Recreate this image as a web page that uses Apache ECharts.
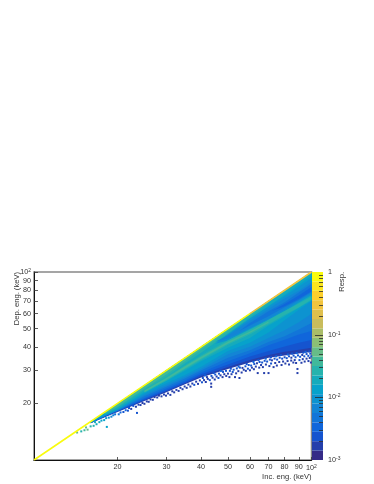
<!DOCTYPE html>
<html><head><meta charset="utf-8">
<style>html,body{margin:0;padding:0;background:#fff}#c{width:374px;height:484px}</style>
<script src="https://cdn.jsdelivr.net/npm/echarts@6/dist/echarts.min.js"></script>
</head><body><div id="c"></div>
<script>
const tickValues=[20,30,40,50,60,70,80,90,100];
const respTicks=[0.002,0.003,0.004,0.005,0.006,0.007,0.008,0.009,0.02,0.03,0.04,0.05,0.06,0.07,0.08,0.09,0.2,0.3,0.4,0.5,0.6,0.7,0.8,0.9];
const respDecades=[0.001,0.01,0.1,1];
const palette=['#352a87','#253fab','#1554cf','#1066db','#1275d8','#1385d5','#0d93d0','#07a2cb','#15abbc','#26b3ad','#41b99b','#66bc88','#8bbf75','#aabd69','#c9bc5c','#dfbf4d','#f2c43f','#fed02c','#fbe61d','#f9fb0e'];
// Incident-energy columns (keV)
const incE=[16,18,20,25,30,35,40,50,60,70,80,90,100];
// Lower edge (deposited keV) of each response region, regions reach up to the diagonal
const edge0015=[15.7,16.9,18,20.6,22.9,25.3,27.5,30.5,33,35,36,36.8,37.5];
const edge0024=[15.7,17,18.1,20.8,23.2,25.6,28,31.2,34,36.2,37.6,38.6,39.5];
const edge0034=[15.75,17.05,18.2,21.1,23.6,26,28.6,32.2,35.5,38,40.2,42,43.5];
const edge0048=[15.75,17.1,18.3,21.4,24,26.5,29.2,33.5,37,40.8,43.6,46.5,48.5];
const edge0068=[15.8,17.15,18.35,21.8,24.5,27.1,29.9,35,38.4,42.4,45.5,49.5,53.5];
const edge0095=[15.8,17.2,18.4,22.2,25,27.6,30.5,36.5,40,44.5,49,54,60];
const edge0135=[15.85,17.3,18.5,22.6,25.6,28.3,31.3,38,42,47.6,55.4,63,70];
// Shoulder around the escape ridge
const shoulderE=[18,20,25,30,35,40,50,60,70,80,90,100];
const shoulderTop=[18,20,25,30,35,40,44.4,51,58.2,63.9,69.6,75.4];
const shoulderBot=[17.4,18.7,23,26.3,29.8,33.5,39.5,44.6,52,58,64.6,70.5];
// Bright strips under the diagonal
const nearDiagE=[40,50,60,70,80,90,100];
const nearDiag019=[36.7,46.5,56.1,65.9,75.7,85.7,95.8];
const upperE=[18,20,25,30,35,40,50,60,70];
const upper027=[17.5,19,23.6,27.6,32.6,37.2,47.2,57.5,68];
const upper038=[17.7,19.2,24,28.5,33.5,38.6,48.6,59.5,70];
// Darker strip between diagonal and ridge
const darkE=[45,50,60,70,80,90,100];
const dark0095Top=[41.5,46.7,56.5,65.5,74.3,83.6,92.9];
const dark0095Bot=[41.5,43.2,49.8,55.5,61.8,68.9,75.4];
const dark0068E=[45,50,60,70,80,90,100];
const dark0068Top=[42.5,46,55.1,63.5,72.3,79.6,88.5];
const dark0068Bot=[42.5,44.3,50.4,56.4,63.1,70.5,77];
const dark0048E=[55,60,70,80,90,100];
const dark0048Top=[48.5,53.5,61.9,69,77.8,86.4];
const dark0048Bot=[48.5,51.9,58.2,65,71,78.3];
const dark0034E=[72,80,90,100];
const dark0034Top=[62,67.6,74.9,83.2];
const dark0034Bot=[62,65.8,72.1,79];
// Escape ridge
const ridgeE=[25,30,35,40,50,60,70,80,90,100];
const ridge027Top=[23.6,27.6,31.9,36,43.3,49.3,55.7,62,67.9,74];
const ridge027Bot=[22.8,26.4,30.3,34,41,46.5,52.7,59,64.7,71.5];
const ridge038E=[25,30,35,40,50,60,70];
const ridge038Top=[23.4,27.3,31.5,35.4,42.6,48.3,54.6];
const ridge038Bot=[23,26.7,30.7,34.6,41.6,47.4,53.7];
// Full-energy peak along the diagonal
const peakLowE=[10,14,20,30,40,60];
const peakHighE=[60,80,100];
// Isolated filled cells [inc keV, dep keV, response]
const sparseCells=[[14.3,14,.06],[14.8,14.2,.03],[15.2,14.4,.04],[15.6,14.5,.05],[15.4,14.9,.05],[16,15.1,.03],[16.4,15.2,.025],[16.8,15.5,.02],[16.6,15.9,.02],[17.2,15.9,.016],[17.5,16.2,.014],[17.9,16.3,.012],[18.3,15,.012],[18.2,16.7,.01],[18.6,16.8,.009],[19,17,.007],[19.3,17.3,.006],[19.6,17.5,.005],
[20.2,17.5,.004],[20.5,17.9,.003],[21,18,.0025],[21.4,18.4,.003],[21.8,18.3,.002],[22,18.9,.002],[22.4,18.7,.0018],[22.8,19.4,.002],[23.3,19.2,.0016],[23.5,17.8,.002],[23.8,19.7,.0017],[24.2,19.6,.0016],[24.6,20.1,.0015],[25,19.9,.0016],[25.5,20.5,.0015],[25.9,20.4,.0016],[26.3,21,.0017],[26.8,20.9,.0015],[27.2,21.6,.0015],[27.8,21.5,.0016],[28.2,22,.0015],[28.8,21.8,.0015],[29.4,22.3,.0015],[29.9,22,.0016],
[30.4,22.6,.0015],[31,22.2,.0018],[31.5,23.2,.0015],[32,22.9,.0016],[32.6,23.6,.0015],[33.2,23.3,.0018],[33.7,24.2,.0015],[34.3,23.8,.0016],[34.9,24.6,.0015],[35.5,24.2,.0017],[36,25.2,.0015],[36.6,24.6,.0016],[37.2,25.5,.0015],[37.8,25.1,.002],[38.4,26.1,.0015],[39,25.4,.0016],[39.6,26.5,.0015],[40.3,25.9,.002],[41,26.6,.0016],[41.6,26,.0015],[42.3,27,.0016],[43,26.6,.002],[43.5,25.5,.0017],[43.5,24.5,.0017],
[44,27.4,.0015],[44.8,26.8,.0016],[45.5,27.8,.0015],[46.2,27.3,.002],[47,28.2,.0015],[47.8,27.6,.0016],[48.5,28.6,.0015],[49.3,28,.0018],[50,28.8,.0016],[50.6,27.6,.0017],[51.5,28.6,.0015],[52,29.4,.002],[53,27.6,.0018],[53.5,28.9,.0015],[54.5,29.7,.0016],[55,27.3,.0017],[56,29.2,.0015],[57,30.2,.0016],[58,29.8,.0015],[59,30.6,.002],[60,30,.0015],[61,31,.0016],[62,30.4,.0015],[63,31.4,.0018],[64,29,.0017],[64.8,31,.0015],[65.8,32,.0016],[66.8,31.2,.0015],[67.5,29,.0017],[68.5,32.2,.0016],[70,29,.0017],[70.5,31.6,.0015],[71.5,32.6,.002],[73,31.2,.0015],[74,32.8,.0016],[75,31.8,.0015],[76.5,33.2,.0018],[78,32,.0016],[79,33.4,.0015],[80.5,32.6,.0016],[82,33.6,.0015],[83,32.2,.0018],[84.5,33.8,.0016],[86,33,.0015],[87,34,.0016],[88,32.8,.0015],[89,30.5,.0017],[89,29,.0017],[90.5,34,.002],[92,32.9,.0015],[93,34.4,.0016],[94.5,33.4,.0015],[96,34.6,.0018],[97.5,33.6,.0016],[98.5,34.9,.0015],[99.5,33,.0017]];
// Filled cells in the frayed lower fringe [inc keV, dep keV, response]
const fringeCells=[[40.6,27.3,.0022],[42,27.6,.0018],[43.6,28,.0024],[45,28.5,.002],[46.4,28.8,.0026],[48,29.4,.0022],[49.2,29.8,.002],[50.8,29.8,.0024],[52.4,30.2,.0022],[53.8,30.7,.002],[55.2,31,.0026],[56.4,30.9,.0018],[57.8,31.5,.0024],[59.4,32,.002],[60.6,31.8,.0022],[62.2,32.4,.0026],[63.6,32.7,.0018],[65,33.2,.0024],[66.4,33,.0022],[67.8,33.7,.002],[69.2,33.4,.0026],[70.8,34.2,.0022],[72,33.9,.0018],[73.6,34.6,.0024],[75.2,34.2,.002],[76.8,35,.0026],[78.4,34.6,.0022],[80,35.2,.002],[81.4,34.8,.0024],[83,35.6,.0022],[84.6,35,.0018],[86.2,35.9,.0026],[87.6,35.2,.002],[89.4,36,.0024],[91,35.4,.0022],[92.6,36.2,.0018],[94.2,35.6,.0026],[96,36.6,.0022],[97.4,35.8,.002],[99,36.8,.0026],[99.8,35.6,.0022],
[41.4,28.2,.003],[44.4,29,.0028],[47.2,29.8,.003],[51.2,30.6,.0028],[54.6,31.4,.003],[58.4,32.4,.0028],[61.8,33.2,.003],[64.4,34,.0028],[68.4,34.6,.003],[71.4,35.2,.0028],[74.6,35.6,.003],[77.6,36.2,.0028],[82.2,36.4,.003],[85.2,36.8,.0028],[88.4,37,.003],[93.4,37.2,.0028],[95.2,37.6,.003],[98.2,37.8,.0028]];

function levelOf(v){return Math.max(0,Math.min(19,Math.floor((Math.log10(v)+3)/0.15)));}
function colorOf(v){return palette[levelOf(v)];}
function ribbon(xs,top,bot,resp){
  return {type:'custom',coordinateSystem:'cartesian2d',xAxisIndex:0,yAxisIndex:0,silent:true,clip:true,
    data:xs.map((x,i)=>[x,top[i],bot[i]]),
    encode:{x:0,y:1},
    renderItem(p,api){
      if(p.dataIndex!==0)return;
      const pts=[];
      xs.forEach((x,i)=>pts.push(api.coord([x,top[i]])));
      for(let i=xs.length-1;i>=0;i--)pts.push(api.coord([xs[i],bot[i]]));
      return {type:'polygon',shape:{points:pts},style:{fill:colorOf(resp)}};
    }};
}
const cellStyle={opacity:1,color:p=>colorOf(p.value[2])};
function scaleTicks(values,len){
  return {type:'custom',coordinateSystem:'cartesian2d',xAxisIndex:1,yAxisIndex:1,silent:true,z:5,
    data:values.map(v=>[0,v]),encode:{x:0,y:1},
    renderItem(p,api){
      const a=api.coord([1,api.value(1)]);
      const y=Math.round(a[1])+.5;
      return {type:'line',shape:{x1:a[0],y1:y,x2:a[0]-len,y2:y},style:{stroke:'#2a2a2a',lineWidth:.8}};
    }};
}
const series=[
  ribbon(incE,incE,edge0015,.0015),
  ribbon(incE,incE,edge0024,.0024),
  ribbon(incE,incE,edge0034,.0034),
  ribbon(incE,incE,edge0048,.0048),
  ribbon(incE,incE,edge0068,.0068),
  ribbon(incE,incE,edge0095,.0095),
  ribbon(incE,incE,edge0135,.0135),
  ribbon(shoulderE,shoulderTop,shoulderBot,.019),
  ribbon(nearDiagE,nearDiagE,nearDiag019,.019),
  ribbon(upperE,upperE,upper027,.027),
  ribbon(upperE,upperE,upper038,.038),
  ribbon(darkE,dark0095Top,dark0095Bot,.0095),
  ribbon(dark0068E,dark0068Top,dark0068Bot,.0068),
  ribbon(dark0048E,dark0048Top,dark0048Bot,.0048),
  ribbon(dark0034E,dark0034Top,dark0034Bot,.0034),
  ribbon(ridgeE,ridge027Top,ridge027Bot,.027),
  ribbon(ridge038E,ridge038Top,ridge038Bot,.038),
  {type:'scatter',xAxisIndex:0,yAxisIndex:0,silent:true,symbol:'rect',symbolSize:2,data:sparseCells,itemStyle:cellStyle},
  {type:'scatter',xAxisIndex:0,yAxisIndex:0,silent:true,symbol:'rect',symbolSize:2,data:fringeCells,itemStyle:cellStyle},
  {type:'line',xAxisIndex:0,yAxisIndex:0,silent:true,symbol:'none',data:peakHighE.map(x=>[x,x]),lineStyle:{color:palette[16],width:1.6}},
  {type:'line',xAxisIndex:0,yAxisIndex:0,silent:true,symbol:'none',data:peakLowE.map(x=>[x,x]),lineStyle:{color:palette[19],width:1.6}},
  // colour scale cells
  {type:'custom',coordinateSystem:'cartesian2d',xAxisIndex:1,yAxisIndex:1,silent:true,
    data:palette.map((c,i)=>[0,Math.pow(10,-3+0.15*i),i]),encode:{x:0,y:1},
    renderItem(p,api){
      const i=api.value(2);
      const a=api.coord([0,Math.pow(10,-3+0.15*i)]),b=api.coord([1,Math.pow(10,-3+0.15*(i+1))]);
      return {type:'rect',shape:{x:a[0],y:b[1],width:b[0]-a[0],height:a[1]-b[1]},style:{fill:palette[i]}};
    }},
  scaleTicks(respTicks,4),
  scaleTicks(respDecades.slice(1,3),8)
];
const rich={b:{fontSize:7.2,color:'#333',fontFamily:'Liberation Sans'},s:{fontSize:5,color:'#333',fontFamily:'Liberation Sans',verticalAlign:'top',padding:[0,0,3,0]}};
function logLabel(v){
  if(Math.abs(v-100)<1e-6)return '{b|10}{s|2}';
  return String(Math.round(v));
}
function respLabel(v){
  if(Math.abs(v-1)<1e-9)return '1';
  const e=Math.round(Math.log10(v));
  return '{b|10}{s|'+e+'}';
}
const common={color:'#333',fontSize:7.2,fontFamily:'Liberation Sans',rich,hideOverlap:false,showMinLabel:true,showMaxLabel:true};
const nameStyle={color:'#333',fontSize:7.6,fontFamily:'Liberation Sans'};
const sideTitle=(text,x)=>({type:'text',x,y:272,rotation:Math.PI/2,silent:true,z:10,
  style:{text,fill:'#333',fontSize:7.6,fontFamily:'Liberation Sans',align:'right',verticalAlign:'middle'}});
echarts.init(document.getElementById('c'),null,{renderer:'canvas'}).setOption({
  animation:false,backgroundColor:'#fff',
  graphic:[sideTitle('Dep. eng. (keV)',17),sideTitle('Resp.',342)],
  grid:[
    {left:34,top:272,width:277.5,height:188,show:true,borderColor:'#888',borderWidth:1.5,backgroundColor:'#fff'},
    {left:312,top:272,width:11,height:188}
  ],
  xAxis:[
    {type:'log',logBase:10,min:10,max:100,gridIndex:0,name:'Inc. eng. (keV)',nameLocation:'end',nameGap:0,nameTextStyle:{...nameStyle,align:'right',verticalAlign:'top',padding:[13,0,0,0]},
     axisLine:{show:true,lineStyle:{color:'#111',width:1}},splitLine:{show:false},minorTick:{show:false},
     axisTick:{show:true,inside:true,length:3,customValues:tickValues,lineStyle:{color:'#333',width:.8}},
     axisLabel:{...common,margin:4,customValues:tickValues,formatter:logLabel}},
    {type:'value',gridIndex:1,min:0,max:1,show:false}
  ],
  yAxis:[
    {type:'log',logBase:10,min:10,max:100,gridIndex:0,
     axisLine:{show:true,lineStyle:{color:'#111',width:1}},splitLine:{show:false},minorTick:{show:false},
     axisTick:{show:true,inside:true,length:4,customValues:tickValues,lineStyle:{color:'#333',width:.8}},
     axisLabel:{...common,margin:3,customValues:tickValues,formatter:logLabel}},
    {type:'log',logBase:10,min:0.001,max:1,gridIndex:1,position:'right',
     axisLine:{show:false},splitLine:{show:false},minorTick:{show:false},
     axisTick:{show:false},
     axisLabel:{...common,margin:5,customValues:respDecades,formatter:respLabel}}
  ],
  series
});
</script></body></html>
